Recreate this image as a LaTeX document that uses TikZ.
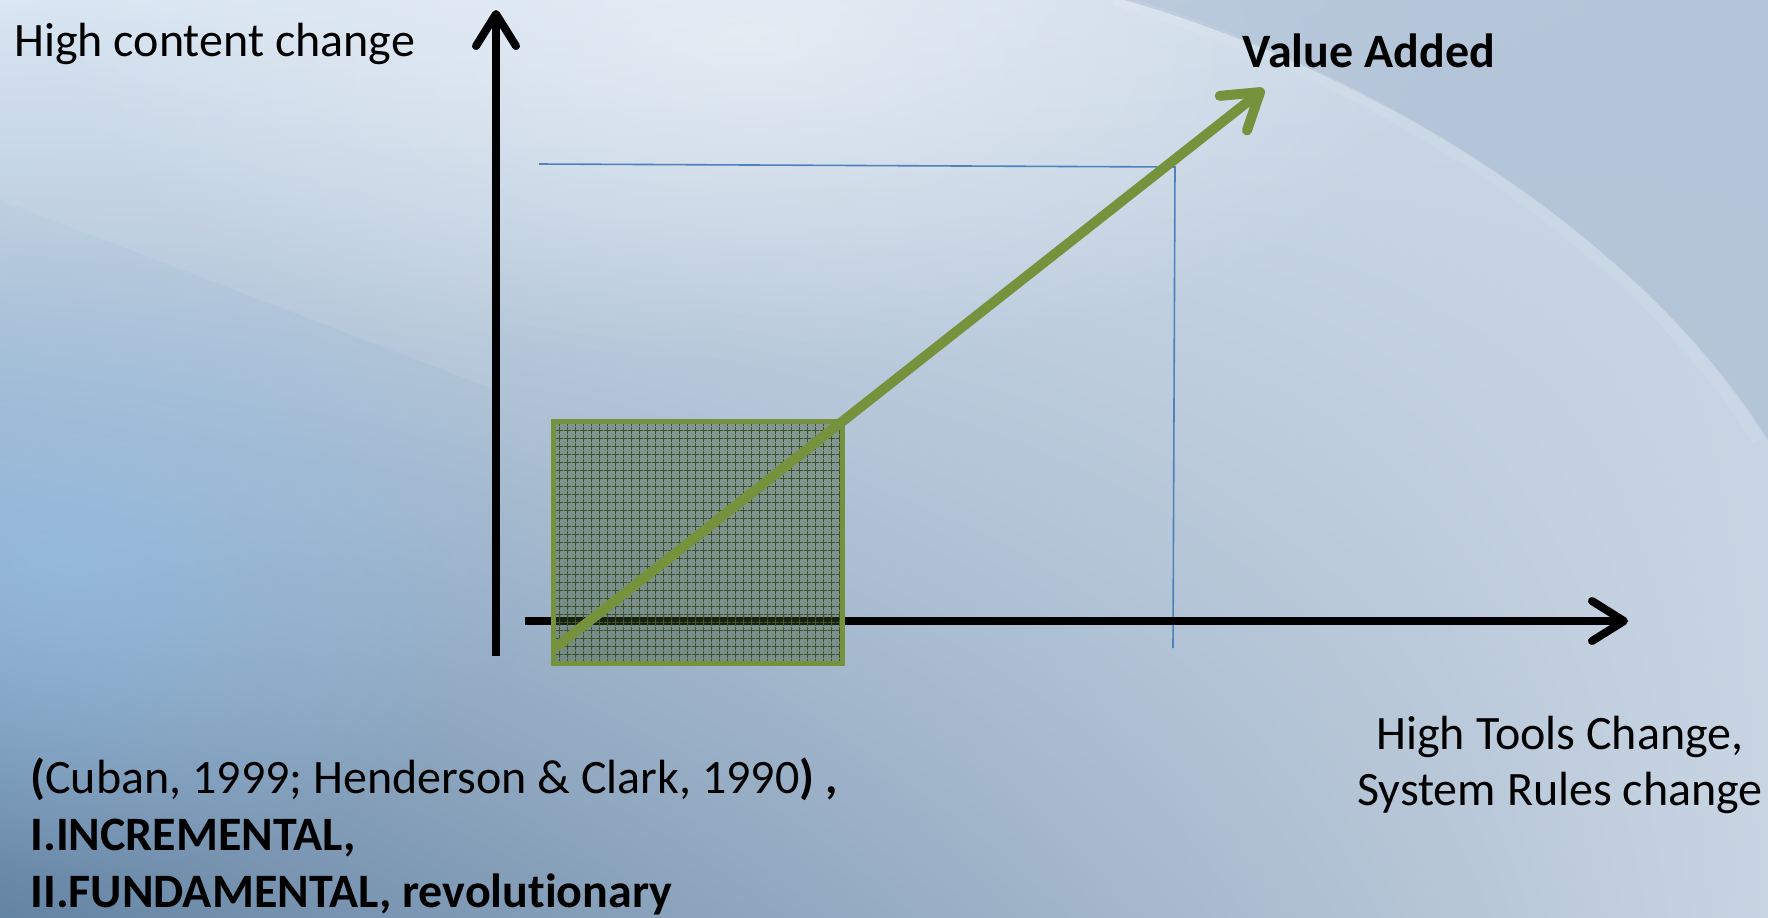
\documentclass[tikz,border=0pt]{standalone}
\usepackage{fontspec}
\setmainfont{Carlito}[Ligatures=NoCommon]
\usetikzlibrary{arrows.meta,patterns.meta,shadings,fadings}

\tikzfading[name=glow, inner color=transparent!0, outer color=transparent!100]

\definecolor{olivegreen}{RGB}{118,146,60}
\definecolor{boxgreen}{RGB}{62,84,42}
\definecolor{lineblue}{RGB}{79,129,189}
\definecolor{bgtl}{RGB}{214,228,242}
\definecolor{bgtr}{RGB}{200,213,228}
\definecolor{bgbl}{RGB}{100,132,164}
\definecolor{bgbr}{RGB}{200,212,226}
\definecolor{bgdark}{RGB}{168,187,210}
\definecolor{skyblue}{RGB}{150,195,235}

\tikzset{
  axisline/.style={line width=4pt, -{Straight Barb[length=16pt,width=20pt,round]}},
  valueline/.style={olivegreen, line width=5pt, -{Straight Barb[length=17pt,width=22pt,round]}},
  guide/.style={lineblue, line width=.8pt},
  lbl/.style={font=\fontsize{24}{29}\selectfont, inner sep=0pt},
  boldlbl/.style={lbl, font=\fontsize{24}{29}\selectfont\bfseries},
}

\begin{document}
\begin{tikzpicture}[x=0.5pt, y=-0.5pt]
  \useasboundingbox (0,0) rectangle (1768,917);
  \shade[upper left=bgtl, upper right=bgtr, lower left=bgbl, lower right=bgbr] (0,0) rectangle (1768,917);
  \fill[skyblue, opacity=.6, path fading=glow] (60,560) ellipse (480 and 320);
  \fill[white, opacity=.45, path fading=glow] (750,40) ellipse (700 and 330);
  \fill[white, opacity=.08] (0,0) -- (0,200) -- (496,390) -- (496,0) -- cycle;
  \fill[bgdark, opacity=.6] (1125,0) .. controls (1400,80) and (1650,250) .. (1768,440) -- (1768,0) -- cycle;
  \draw[white, opacity=.08, line width=6pt] (1115,0) .. controls (1390,80) and (1640,250) .. (1758,440);

  \coordinate (ybot) at (496,656);
  \coordinate (ytop) at (496,10);
  \coordinate (xleft) at (525,621);
  \coordinate (xright) at (1628,621);
  \coordinate (hstart) at (539,164);
  \coordinate (corner) at (1175,167);
  \coordinate (vend) at (1173,648);
  \coordinate (sqa) at (553,421);
  \coordinate (sqb) at (842,663);
  \coordinate (vastart) at (555,648);
  \coordinate (vaend) at (1264,89);

  \draw[guide] (hstart) -- (corner) -- (vend);
  \draw[axisline] (ybot) -- (ytop);
  \draw[axisline] (xleft) -- (xright);
  \fill[boxgreen, opacity=.4] (sqa) rectangle (sqb);
  \fill[pattern={Hatch[distance=4pt, line width=.4pt]}, pattern color=boxgreen] (sqa) rectangle (sqb);
  \draw[olivegreen, line width=2.5pt] (sqa) rectangle (sqb);
  \draw[valueline] (vastart) -- (vaend);

  \node[lbl, anchor=base west] (ylabel) at (14,56) {High content change};
  \node[boldlbl, anchor=base west] (valabel) at (1242,67) {Value Added};
  \node[lbl, anchor=base] (xlabela) at (1560,749) {High Tools Change,};
  \node[lbl, anchor=base] (xlabelb) at (1560,805) {System Rules change};
  \node[lbl, anchor=base west] (refa) at (30,793) {\textbf{(}Cuban, 1999; Henderson \& Clark, 1990\textbf{) ,}};
  \node[boldlbl, anchor=base west] (refb) at (30,850) {I.INCREMENTAL,};
  \node[boldlbl, anchor=base west] (refc) at (30,907) {II.FUNDAMENTAL, revolutionary};
\end{tikzpicture}
\end{document}
